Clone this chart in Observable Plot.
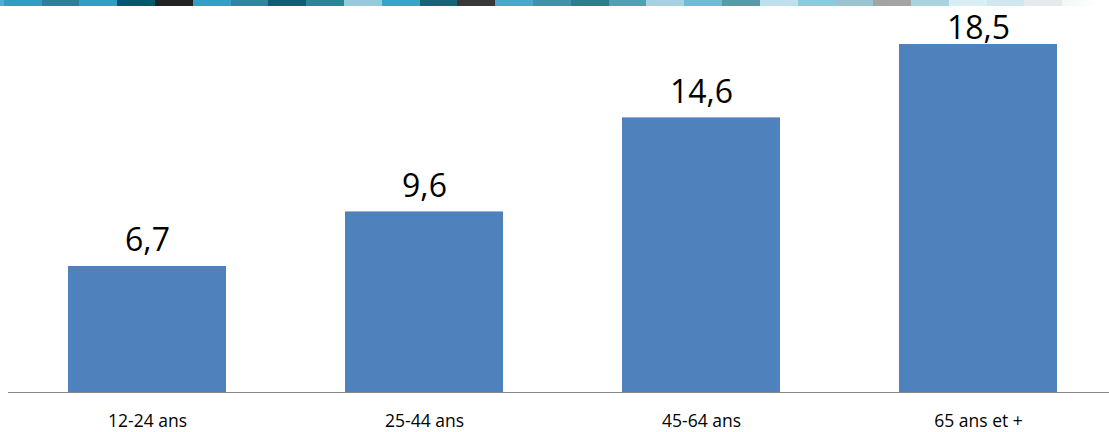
<!DOCTYPE html>
<html>
<head>
<meta charset="utf-8">
<script src="https://cdn.jsdelivr.net/npm/d3@7"></script>
<script src="https://cdn.jsdelivr.net/npm/@observablehq/plot@0.6"></script>
<style>
  html, body { margin: 0; padding: 0; background: #fff; }
  #wrap { position: relative; width: 1109px; height: 432px; overflow: hidden; }
  #stripe { position: absolute; top: 0; left: 0; width: 1109px; height: 6px; overflow: hidden; }
  #stripe div { position: absolute; top: 0; height: 6px; }
  #chart { position: absolute; top: 0; left: 0; }
</style>
</head>
<body>
<div id="wrap">
  <div id="chart"></div>
  <div id="stripe"></div>
</div>
<script>
const categories = ["12-24 ans", "25-44 ans", "45-64 ans", "65 ans et +"];
const values = [6.7, 9.6, 14.6, 18.5];
const valueLabels = ["6,7", "9,6", "14,6", "18,5"];

const stripeColors = [
  "#4fb0cc", "#2e9fbd", "#2a8096", "#30a0c0", "#03586b", "#222222",
  "#31a1c1", "#2a879d", "#0d5e72", "#2b8599", "#99c9dc", "#36a6c5",
  "#156477", "#383838", "#47abc7", "#3d93a8", "#2e7c8b", "#4fa0b5",
  "#a9d0e0", "#6bbcd4", "#5a99a7", "#bde0ec", "#8ccadf", "#99c4d0",
  "#a4a4a4", "#a9d3df", "#d9edf4", "#d0e7ef", "#e3ebec", "#f2f7f8"
];

// decorative banner
const stripe = document.getElementById("stripe");
const segW = 37.8, segStart = -34;
stripeColors.forEach((c, i) => {
  const d = document.createElement("div");
  d.style.left = (segStart + i * segW) + "px";
  d.style.width = (segW + 0.5) + "px";
  d.style.background = i === stripeColors.length - 1
    ? "linear-gradient(to right, " + c + ", #ffffff)" : c;
  stripe.appendChild(d);
});

const data = categories.map((cat, i) => ({cat, value: values[i], label: valueLabels[i]}));
const maxValue = d3.max(values);

const chart = Plot.plot({
  width: 1109,
  height: 432,
  marginTop: 44,
  marginBottom: 40,
  marginLeft: 8,
  marginRight: 0,
  style: {fontFamily: "'Open Sans', sans-serif", color: "#000", background: "transparent"},
  x: {domain: categories, range: [8, 1117], paddingInner: 0.43, paddingOuter: 0.215, label: null},
  y: {domain: [0, 18.5], axis: null},
  marks: [
    Plot.barY(data, {x: "cat", y: "value", fill: "#4f81bd"}),
    Plot.ruleY([0], {stroke: "#868686", strokeWidth: 1}),
    Plot.axisX({tickSize: 0, tickPadding: 22, fontSize: 17.5, fill: "#000"}),
    Plot.text(data, {
      filter: d => d.value < maxValue,
      x: "cat", y: "value", text: "label",
      lineAnchor: "bottom", dy: -15, fontSize: 32, fill: "#000"
    }),
    Plot.text(data, {
      filter: d => d.value === maxValue,
      x: "cat", y: "value", text: "label",
      lineAnchor: "bottom", dy: -5.5, fontSize: 32, fill: "#000"
    })
  ]
});
document.getElementById("chart").appendChild(chart);
</script>
</body>
</html>
